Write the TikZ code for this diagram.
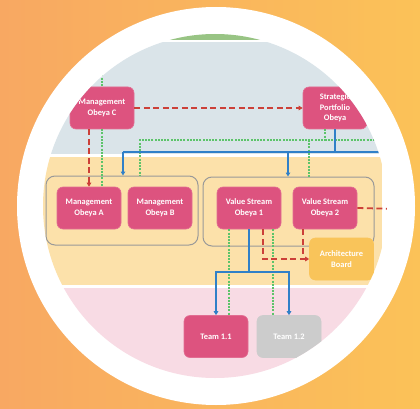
\documentclass[tikz,border=0pt]{standalone}
\usepackage{fontspec}
\setmainfont{Carlito}
\usetikzlibrary{arrows.meta}
\definecolor{bgleft}{RGB}{248,168,98}
\definecolor{bgright}{RGB}{251,194,88}
\definecolor{obeyapink}{RGB}{221,83,127}
\definecolor{archorange}{RGB}{249,196,90}
\definecolor{teamgrey}{RGB}{204,204,204}
\definecolor{lanegreen}{RGB}{152,196,132}
\definecolor{laneblue}{RGB}{218,228,233}
\definecolor{lanepeach}{RGB}{252,225,170}
\definecolor{lanepink}{RGB}{248,219,228}
\definecolor{linered}{RGB}{204,64,56}
\definecolor{linegreen}{RGB}{92,196,106}
\definecolor{lineblue}{RGB}{48,128,200}
\tikzset{
  obeya/.style={rectangle, rounded corners=6pt, fill=obeyapink,
    draw=obeyapink!85!white, line width=0.6pt, text=white,
    font=\bfseries\fontsize{8.4}{10.6}\selectfont, align=center,
    minimum width=64pt, minimum height=42pt, inner sep=1pt},
  grpbox/.style={rectangle, rounded corners=9pt, draw=black!40, line width=1pt},
  redline/.style={draw=linered, line width=1.8pt, dash pattern=on 6pt off 3.5pt},
  grnline/.style={draw=linegreen, line width=1.8pt, dash pattern=on 2pt off 1.2pt},
  bluline/.style={draw=lineblue, line width=1.8pt}
}
\begin{document}
\begin{tikzpicture}[x=1pt,y=-1pt,>={Triangle[length=4pt,width=4.5pt]}]
\useasboundingbox (0,0) rectangle (420,409);
\shade[left color=bgleft,right color=bgright] (0,0) rectangle (420,409);
\fill[white] (216,206) circle (199pt);
\begin{scope}
\clip (215,206) circle (172pt);
\fill[lanegreen] (0,0) rectangle (420,40);
\fill[laneblue] (0,42) rectangle (382,154);
\fill[lanepeach] (0,157) rectangle (382,285);
\fill[lanepink] (0,288) rectangle (382,409);
% groups
\node[grpbox, minimum width=152pt, minimum height=69pt] (grpA) at (122,210.5) {};
\node[grpbox, minimum width=171pt, minimum height=69pt] (grpB) at (288.5,211.5) {};
% obeyas
\node[obeya] (mgmtC) at (102,108) {Management\\Obeya C};
\node[obeya] (spo) at (335,108) {Strategic\\Portfolio\\Obeya};
\node[obeya] (mgmtA) at (89,208) {Management\\Obeya A};
\node[obeya] (mgmtB) at (160,208) {Management\\Obeya B};
\node[obeya] (vs1) at (249,208) {Value Stream\\Obeya 1};
\node[obeya] (vs2) at (325,208) {Value Stream\\Obeya 2};
\node[obeya, fill=archorange, draw=archorange] (arch) at (341.5,259) {Architecture\\Board};
\node[obeya] (team11) at (216,336.5) {Team 1.1};
\node[obeya, fill=teamgrey, draw=teamgrey] (team12) at (289,336.5) {Team 1.2};
% bends
\coordinate (gtop) at (102,20);
\coordinate (gL) at (140,140);
\coordinate (gM) at (309,140);
\coordinate (gR) at (400,140);
\coordinate (bL) at (123,152);
\coordinate (bM) at (288,152);
\coordinate (bR) at (400,152);
\coordinate (rR) at (400,209);
\coordinate (tbus) at (249,272);
% green
\draw[grnline] (gtop) -- (mgmtC.north);
\draw[grnline] (mgmtC.south) -- (mgmtC.south |- mgmtA.north);
\draw[grnline] ([xshift=-10pt]spo.south) |- (gL) -- (gL |- grpA.north);
\draw[grnline] ([xshift=-10pt]spo.south |- gL) -- (gR);
\draw[grnline] (gM) -- (gM |- grpB.north);
\draw[grnline] ([xshift=-20pt]vs1.south) -- ([xshift=-20pt]vs1.south |- team11.north);
\draw[grnline] ([xshift=24pt]vs1.south) -- ([xshift=24pt]vs1.south |- team12.north);
% blue
\draw[bluline] (spo.south) |- (bL);
\draw[bluline] (spo.south |- bL) -- (bR);
\draw[bluline,->] (bL) -- (bL |- grpA.north);
\draw[bluline,->] (bM) -- (bM |- grpB.north);
\draw[bluline] (vs1.south) -- (tbus);
\draw[bluline,->] (tbus) -| (team11.north);
\draw[bluline,->] (tbus) -| (team12.north);
% red
\draw[redline,->] (mgmtC.east) -- (spo.west);
\draw[redline,->] (mgmtA.north |- mgmtC.south) -- (mgmtA.north);
\draw[redline] (vs2.east) -- (rR);
\draw[redline,->] ([xshift=14pt]vs1.south) |- (arch.west);
\draw[redline] ([xshift=-22pt]vs2.south) -- ([xshift=-22pt]vs2.south |- arch.west);
\end{scope}
\end{tikzpicture}
\end{document}
